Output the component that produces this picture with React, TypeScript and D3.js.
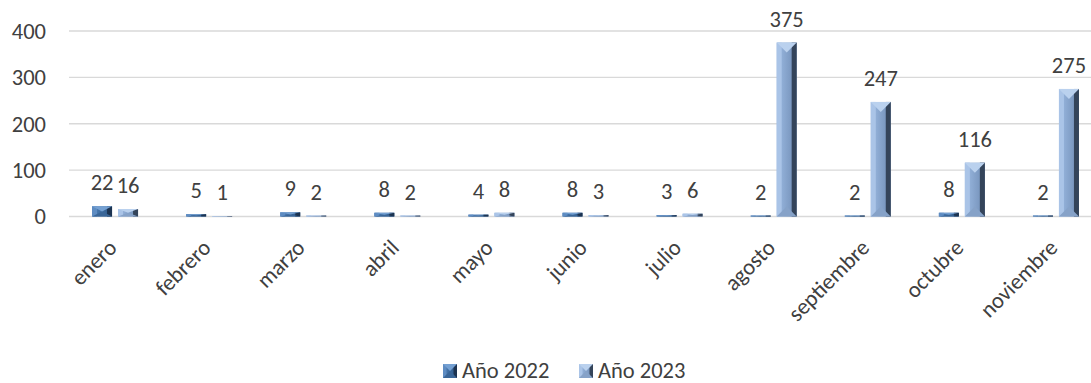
import React from "react";
import * as d3 from "d3";

const categories = ["enero", "febrero", "marzo", "abril", "mayo", "junio", "julio", "agosto", "septiembre", "octubre", "noviembre"];
const seriesNames = ["Año 2022", "Año 2023"];
const values2022 = [22, 5, 9, 8, 4, 8, 3, 2, 2, 8, 2];
const values2023 = [16, 1, 2, 2, 8, 3, 6, 375, 247, 116, 275];
const yTicks = [0, 100, 200, 300, 400];

const W = 1091;
const H = 383;
const FONT = "Calibri, Carlito, Lato, sans-serif";
const FS = 22.5;
const TEXT = "#404040";

const palettes = [
  { face0: "#4f80b8", face1: "#2c5685", top: "#74a0d2", left: "#5e8cc2", right: "#1c3350", bottom: "#3a6698" },
  { face0: "#9cbae2", face1: "#6f8cb4", top: "#bad1ee", left: "#aac4e7", right: "#34445a", bottom: "#86a2c8" },
];

function Bevel({ x, y, w, h, p, gid }: { x: number; y: number; w: number; h: number; p: any; gid: string }) {
  if (h <= 0) return null;
  const s = Math.min(5, w / 4);
  const t = Math.min(10, w / 2, h / 2);
  const pts = (a: number[][]) => a.map((q) => q.join(",")).join(" ");
  return (
    <g>
      <rect x={x} y={y} width={w} height={h} fill={`url(#${gid})`} />
      <rect x={x} y={y} width={s} height={h} fill={p.left} />
      <rect x={x + w - s} y={y} width={s} height={h} fill={p.right} />
      <polygon points={pts([[x, y + h], [x + w, y + h], [x + w / 2, y + h - t]])} fill={p.bottom} />
      <polygon points={pts([[x, y], [x + w, y], [x + w / 2, y + t]])} fill={p.top} />
    </g>
  );
}

export default function App() {
  const x0 = d3.scaleBand<string>().domain(categories).range([68, 1103]).paddingInner(0).paddingOuter(0);
  const y = d3.scaleLinear().domain([0, 400]).range([216.5, 31]);
  const series = [values2022, values2023];
  const half = 23;

  return (
    <svg width={W} height={H} style={{ position: "absolute", left: 0, top: 0 }} fontFamily={FONT}>
      <defs>
        {palettes.map((p, i) => (
          <linearGradient key={i} id={`g${i}`} x1="0" x2="1" y1="0" y2="0">
            <stop offset="0" stopColor={p.face0} />
            <stop offset="1" stopColor={p.face1} />
          </linearGradient>
        ))}
      </defs>
      <rect x={0} y={0} width={W} height={H} fill="#fff" />
      {yTicks.map((t) => (
        <g key={t}>
          <line x1={69} x2={W} y1={y(t)} y2={y(t)} stroke="#d9d9d9" strokeWidth={1.3} />
          <text x={46} y={y(t)} dy="0.35em" textAnchor="end" fontSize={FS} fill={TEXT}>
            {t}
          </text>
        </g>
      ))}
      {categories.map((c, ci) => {
        const cx = (x0(c) as number) + x0.bandwidth() / 2;
        const x1 = d3.scaleBand<string>().domain(seriesNames).range([cx - half, cx + half]).paddingInner(0.2308);
        return (
          <g key={c}>
            {seriesNames.map((s, si) => {
              const v = series[si][ci];
              const bx = x1(s) as number;
              const bw = x1.bandwidth();
              const top = y(v);
              return (
                <g key={s}>
                  <Bevel x={bx} y={top} w={bw} h={y(0) - top} p={palettes[si]} gid={`g${si}`} />
                  <text x={bx + bw / 2} y={top - 16} textAnchor="middle" fontSize={FS} fill={TEXT}>
                    {v}
                  </text>
                </g>
              );
            })}
            <text transform={`translate(${cx + 3},249) rotate(-45)`} textAnchor="end" fontSize={FS} fill={TEXT}>
              {c}
            </text>
          </g>
        );
      })}
      {seriesNames.map((s, si) => {
        const lx = si === 0 ? 443 : 579;
        return (
          <g key={s}>
            <Bevel x={lx} y={364} w={14} h={14} p={palettes[si]} gid={`g${si}`} />
            <text x={lx + 19} y={377.5} fontSize={FS} fill={TEXT}>
              {s}
            </text>
          </g>
        );
      })}
    </svg>
  );
}
